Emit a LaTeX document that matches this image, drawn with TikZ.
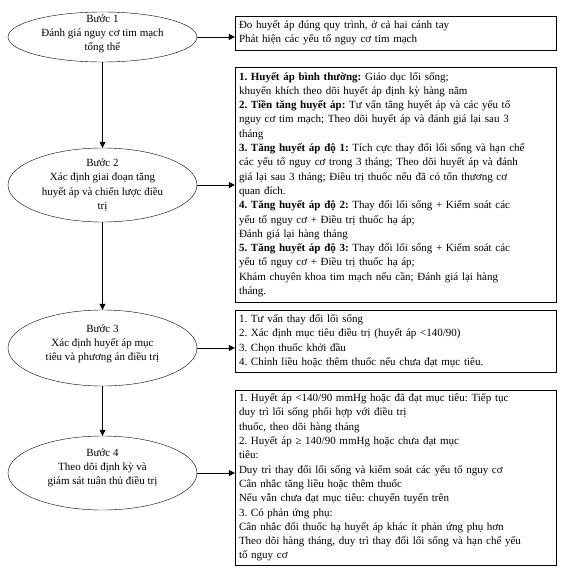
\documentclass[tikz,border=0pt]{standalone}
\usepackage{fontspec}
\setmainfont{Liberation Serif}
\usetikzlibrary{arrows.meta,shapes.geometric}
\frenchspacing

\begin{document}
\begin{tikzpicture}[x=1pt, y=-1pt,
    stage/.style={draw, ellipse, minimum width=189pt, inner sep=0pt},
    stagetext/.style={align=center, font=\fontsize{11}{14.3}\selectfont},
    infobox/.style={draw, rectangle, text width=313pt, minimum width=321pt,
                    inner xsep=4pt, inner ysep=2pt, align=left,
                    font=\fontsize{11}{14.3}\selectfont},
    link/.style={-{Triangle[length=6pt,width=6pt]}}]
    \fill[white] (0, 0) rectangle (568, 570);
    \useasboundingbox (0, 0) rectangle (568, 570);

    % 左边四个步骤（椭圆）
    \node[stage, minimum height=50pt] (s1) at (102.5, 37) {};
    \node[stage, minimum height=74pt] (s2) at (102.5, 185) {};
    \node[stage, minimum height=76pt] (s3) at (102.5, 348) {};
    \node[stage, minimum height=74pt] (s4) at (102.5, 473) {};
    \node[stagetext] (t1) at ([yshift=3pt]s1.center) {Bước 1\\Đánh giá nguy cơ tim mạch\\tổng thể};
    \node[stagetext] (t2) at (s2.center) {Bước 2\\Xác định giai đoạn tăng\\huyết áp và chiến lược điều\\trị};
    \node[stagetext] (t3) at ([yshift=4pt]s3.center) {Bước 3\\Xác định huyết áp mục\\tiêu và phương án điều trị};
    \node[stagetext] (t4) at ([yshift=5pt]s4.center) {Bước 4\\Theo dõi định kỳ và\\giám sát tuân thủ điều trị};

    % 右边说明框
    \node[infobox, minimum height=34pt] (b1) at (395.5, 33)
        {Đo huyết áp đúng quy trình, ở cả hai cánh tay\\
         Phát hiện các yếu tố nguy cơ tim mạch};
    \node[infobox, minimum height=235pt] (b2) at (395.5, 184.5)
        {\textbf{1. Huyết áp bình thường:} Giáo dục lối sống;\\
         khuyến khích theo dõi huyết áp định kỳ hàng năm\\
         \textbf{2. Tiền tăng huyết áp:} Tư vấn tăng huyết áp và các yếu tố\\
         nguy cơ tim mạch; Theo dõi huyết áp và đánh giá lại sau 3\\
         tháng\\
         \textbf{3. Tăng huyết áp độ 1:} Tích cực thay đổi lối sống và hạn chế\\
         các yếu tố nguy cơ trong 3 tháng; Theo dõi huyết áp và đánh\\
         giá lại sau 3 tháng; Điều trị thuốc nếu đã có tổn thương cơ\\
         quan đích.\\
         \textbf{4. Tăng huyết áp độ 2:} Thay đổi lối sống + Kiểm soát các\\
         yếu tố nguy cơ + Điều trị thuốc hạ áp;\\
         Đánh giá lại hàng tháng\\
         \textbf{5. Tăng huyết áp độ 3:} Thay đổi lối sống + Kiểm soát các\\
         yếu tố nguy cơ + Điều trị thuốc hạ áp;\\
         Khám chuyên khoa tim mạch nếu cần; Đánh giá lại hàng\\
         tháng.};
    \node[infobox, minimum height=62pt] (b3) at (395.5, 341)
        {1. Tư vấn thay đổi lối sống\\
         2. Xác định mục tiêu điều trị (huyết áp <140/90)\\
         3. Chọn thuốc khởi đầu\\
         4. Chỉnh liều hoặc thêm thuốc nếu chưa đạt mục tiêu.};
    \node[infobox, minimum height=175pt] (b4) at (395.5, 477.5)
        {1. Huyết áp <140/90 mmHg hoặc đã đạt mục tiêu: Tiếp tục\\
         duy trì lối sống phối hợp với điều trị\\
         thuốc, theo dõi hàng tháng\\
         2. Huyết áp ≥ 140/90 mmHg hoặc chưa đạt mục\\
         tiêu:\\
         Duy trì thay đổi lối sống và kiểm soát các yếu tố nguy cơ\\
         Cân nhắc tăng liều hoặc thêm thuốc\\
         Nếu vẫn chưa đạt mục tiêu: chuyển tuyến trên\\
         3. Có phản ứng phụ:\\
         Cân nhắc đổi thuốc hạ huyết áp khác ít phản ứng phụ hơn\\
         Theo dõi hàng tháng, duy trì thay đổi lối sống và hạn chế yếu\\
         tố nguy cơ};

    % 箭头
    \draw[link] (s1.south) -- (s2.north);
    \draw[link] (s2.south) -- (s3.north);
    \draw[link] (s3.south) -- (s4.north);
    \draw[link] (s1.east) -- (s1.east -| b1.west);
    \draw[link] (s2.east) -- (s2.east -| b2.west);
    \draw[link] (s3.east) -- (s3.east -| b3.west);
    \draw[link] (s4.east) -- (s4.east -| b4.west);
\end{tikzpicture}
\end{document}
